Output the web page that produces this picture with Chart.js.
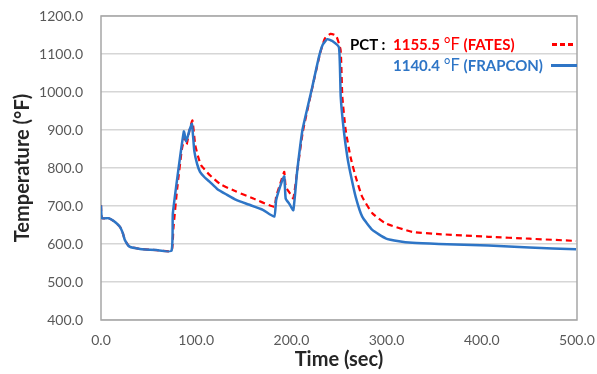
<!DOCTYPE html>
<html>
<head>
<meta charset="utf-8">
<script src="https://cdn.jsdelivr.net/npm/chart.js@4.4.1/dist/chart.umd.min.js"></script>
<style>
  body { margin: 0; background: #fff; }
  #wrap { position: relative; width: 597px; height: 374px; }
  #note { position: absolute; left: 0; top: 0; font-family: Lato, "Open Sans", sans-serif; font-weight: bold; font-size: 15px; }
  .row { position: absolute; white-space: nowrap; line-height: 18px; }
  .deg { font-weight: normal; font-size: 16.5px; }
  .swatch { position: absolute; height: 3px; }
</style>
</head>
<body>
<div id="wrap">
  <canvas id="chart" width="597" height="374"></canvas>
  <div id="note">
    <div class="row" style="left:350px; top:35px; color:#000;">PCT :</div>
    <div class="row" style="left:393px; top:35px; color:#ff0000;">1155.5 <span class="deg">°F</span> (FATES)</div>
    <div class="row" style="left:393px; top:56px; color:#2e75c6;">1140.4 <span class="deg">°F</span> (FRAPCON)</div>
    <div class="swatch" style="left:552px; top:43px; width:23px; background:repeating-linear-gradient(to right, #ff0000 0 5px, transparent 5px 8px);"></div>
    <div class="swatch" style="left:551px; top:64px; width:26px; background:#2e75c6;"></div>
  </div>
</div>
<script>
// FRAPCON (blue, solid)
var timeFrapcon = [0, 1, 8, 13, 20, 23, 25, 30, 41, 58, 74, 75.5, 87, 89.5, 93, 95.5, 98, 101, 104, 109, 114, 122, 132, 142, 155, 170, 182, 184, 190, 192.5, 194, 198, 202, 206, 211.6, 217, 222, 229, 233, 237.8, 243, 250, 251.8, 255, 258.7, 262, 267.5, 274.4, 285, 299, 313, 327, 355, 407, 450, 499];
var tempFrapcon = [702, 668, 668, 661, 645, 628, 611, 593, 587, 584, 582, 681, 896, 870, 900, 916, 845, 810, 790, 775, 764, 745, 730, 716, 704, 690, 672, 716, 765, 778, 720, 705, 689, 790, 900, 960, 1014, 1093, 1125, 1139, 1134, 1117, 988, 900, 830, 786, 724, 672, 637, 615, 607, 603, 600, 596, 591, 586];

// FATES (red, dashed)
var timeFates = [0, 1, 8, 13, 20, 23, 25, 30, 41, 58, 74, 76, 80, 85, 88, 90, 93, 96, 99, 102, 105, 110, 114, 125, 142, 160, 182, 184, 190, 192.5, 194, 198, 202, 206, 212, 222, 230, 235, 241, 247, 251.7, 253.5, 257, 262, 267.5, 274.4, 285, 299, 327, 355, 407, 450, 499];
var tempFates = [702, 668, 668, 661, 645, 628, 611, 593, 587, 584, 582, 640, 745, 850, 880, 862, 900, 925, 860, 830, 808, 793, 782, 758, 738, 720, 698, 725, 772, 790, 751, 735, 720, 790, 895, 1012, 1100, 1140, 1153, 1148, 1110, 988, 900, 830, 777, 724, 681, 654, 632, 626, 619, 614, 608];

var xTickLabels = ['0.0', '100.0', '200.0', '300.0', '400.0', '500.0'];
var yTickLabels = ['400.0', '500.0', '600.0', '700.0', '800.0', '900.0', '1000.0', '1100.0', '1200.0'];

function toPoints(xs, ys) {
  var pts = [];
  for (var i = 0; i < xs.length; i++) {
    pts.push({ x: xs[i], y: ys[i] });
  }
  return pts;
}

var fontFamily = 'Lato, "Open Sans", sans-serif';

// grey frame round the plot area
var plotFrame = {
  id: 'plotFrame',
  beforeDatasetsDraw: function(chart) {
    var a = chart.chartArea;
    var ctx = chart.ctx;
    ctx.save();
    ctx.strokeStyle = '#a6a6a6';
    ctx.lineWidth = 1.5;
    ctx.strokeRect(a.left, a.top, a.right - a.left, a.bottom - a.top);
    ctx.restore();
  }
};

var ctx = document.getElementById('chart');

var myChart = new Chart(ctx, {
  type: 'scatter',
  data: {
    datasets: [
      {
        label: 'FRAPCON',
        data: toPoints(timeFrapcon, tempFrapcon),
        showLine: true,
        borderColor: '#2e75c6',
        borderWidth: 2.5,
        pointRadius: 0,
        tension: 0.15,
        order: 0
      },
      {
        label: 'FATES',
        data: toPoints(timeFates, tempFates),
        showLine: true,
        borderColor: '#ff0000',
        borderWidth: 2.2,
        borderDash: [6, 4],
        pointRadius: 0,
        tension: 0.15,
        order: 1
      }
    ]
  },
  options: {
    responsive: false,
    animation: false,
    devicePixelRatio: 1,
    layout: { padding: { top: 16, right: 20, left: 0, bottom: 0 } },
    plugins: {
      legend: { display: false },
      tooltip: { enabled: false }
    },
    scales: {
      x: {
        type: 'linear',
        min: 0,
        max: 500,
        afterFit: function(scale) {
          scale.height = 54;
          scale.paddingLeft = 0;
          scale.paddingRight = 0;
        },
        grid: { display: false, drawTicks: false },
        border: { display: false },
        ticks: {
          stepSize: 100,
          padding: 12,
          color: '#595959',
          font: { family: fontFamily, size: 14 },
          maxRotation: 0,
          callback: function(value) { return xTickLabels[value / 100]; }
        },
        title: {
          display: true,
          text: 'Time (sec)',
          color: '#262626',
          font: { family: fontFamily, size: 20, weight: 'bold' },
          padding: { top: 0, bottom: 2 }
        }
      },
      y: {
        min: 400,
        max: 1200,
        afterFit: function(scale) {
          scale.width = 101;
          scale.paddingTop = 0;
          scale.paddingBottom = 0;
        },
        grid: { color: '#d6d6d6', lineWidth: 1.5, drawTicks: false },
        border: { display: false },
        ticks: {
          stepSize: 100,
          padding: 18,
          color: '#595959',
          font: { family: fontFamily, size: 14 },
          callback: function(value) { return yTickLabels[(value - 400) / 100]; }
        },
        title: {
          display: true,
          text: 'Temperature (°F)',
          color: '#262626',
          font: { family: fontFamily, size: 20, weight: 'bold' },
          padding: { top: 11, bottom: 0 }
        }
      }
    }
  },
  plugins: [plotFrame]
});
</script>
</body>
</html>
